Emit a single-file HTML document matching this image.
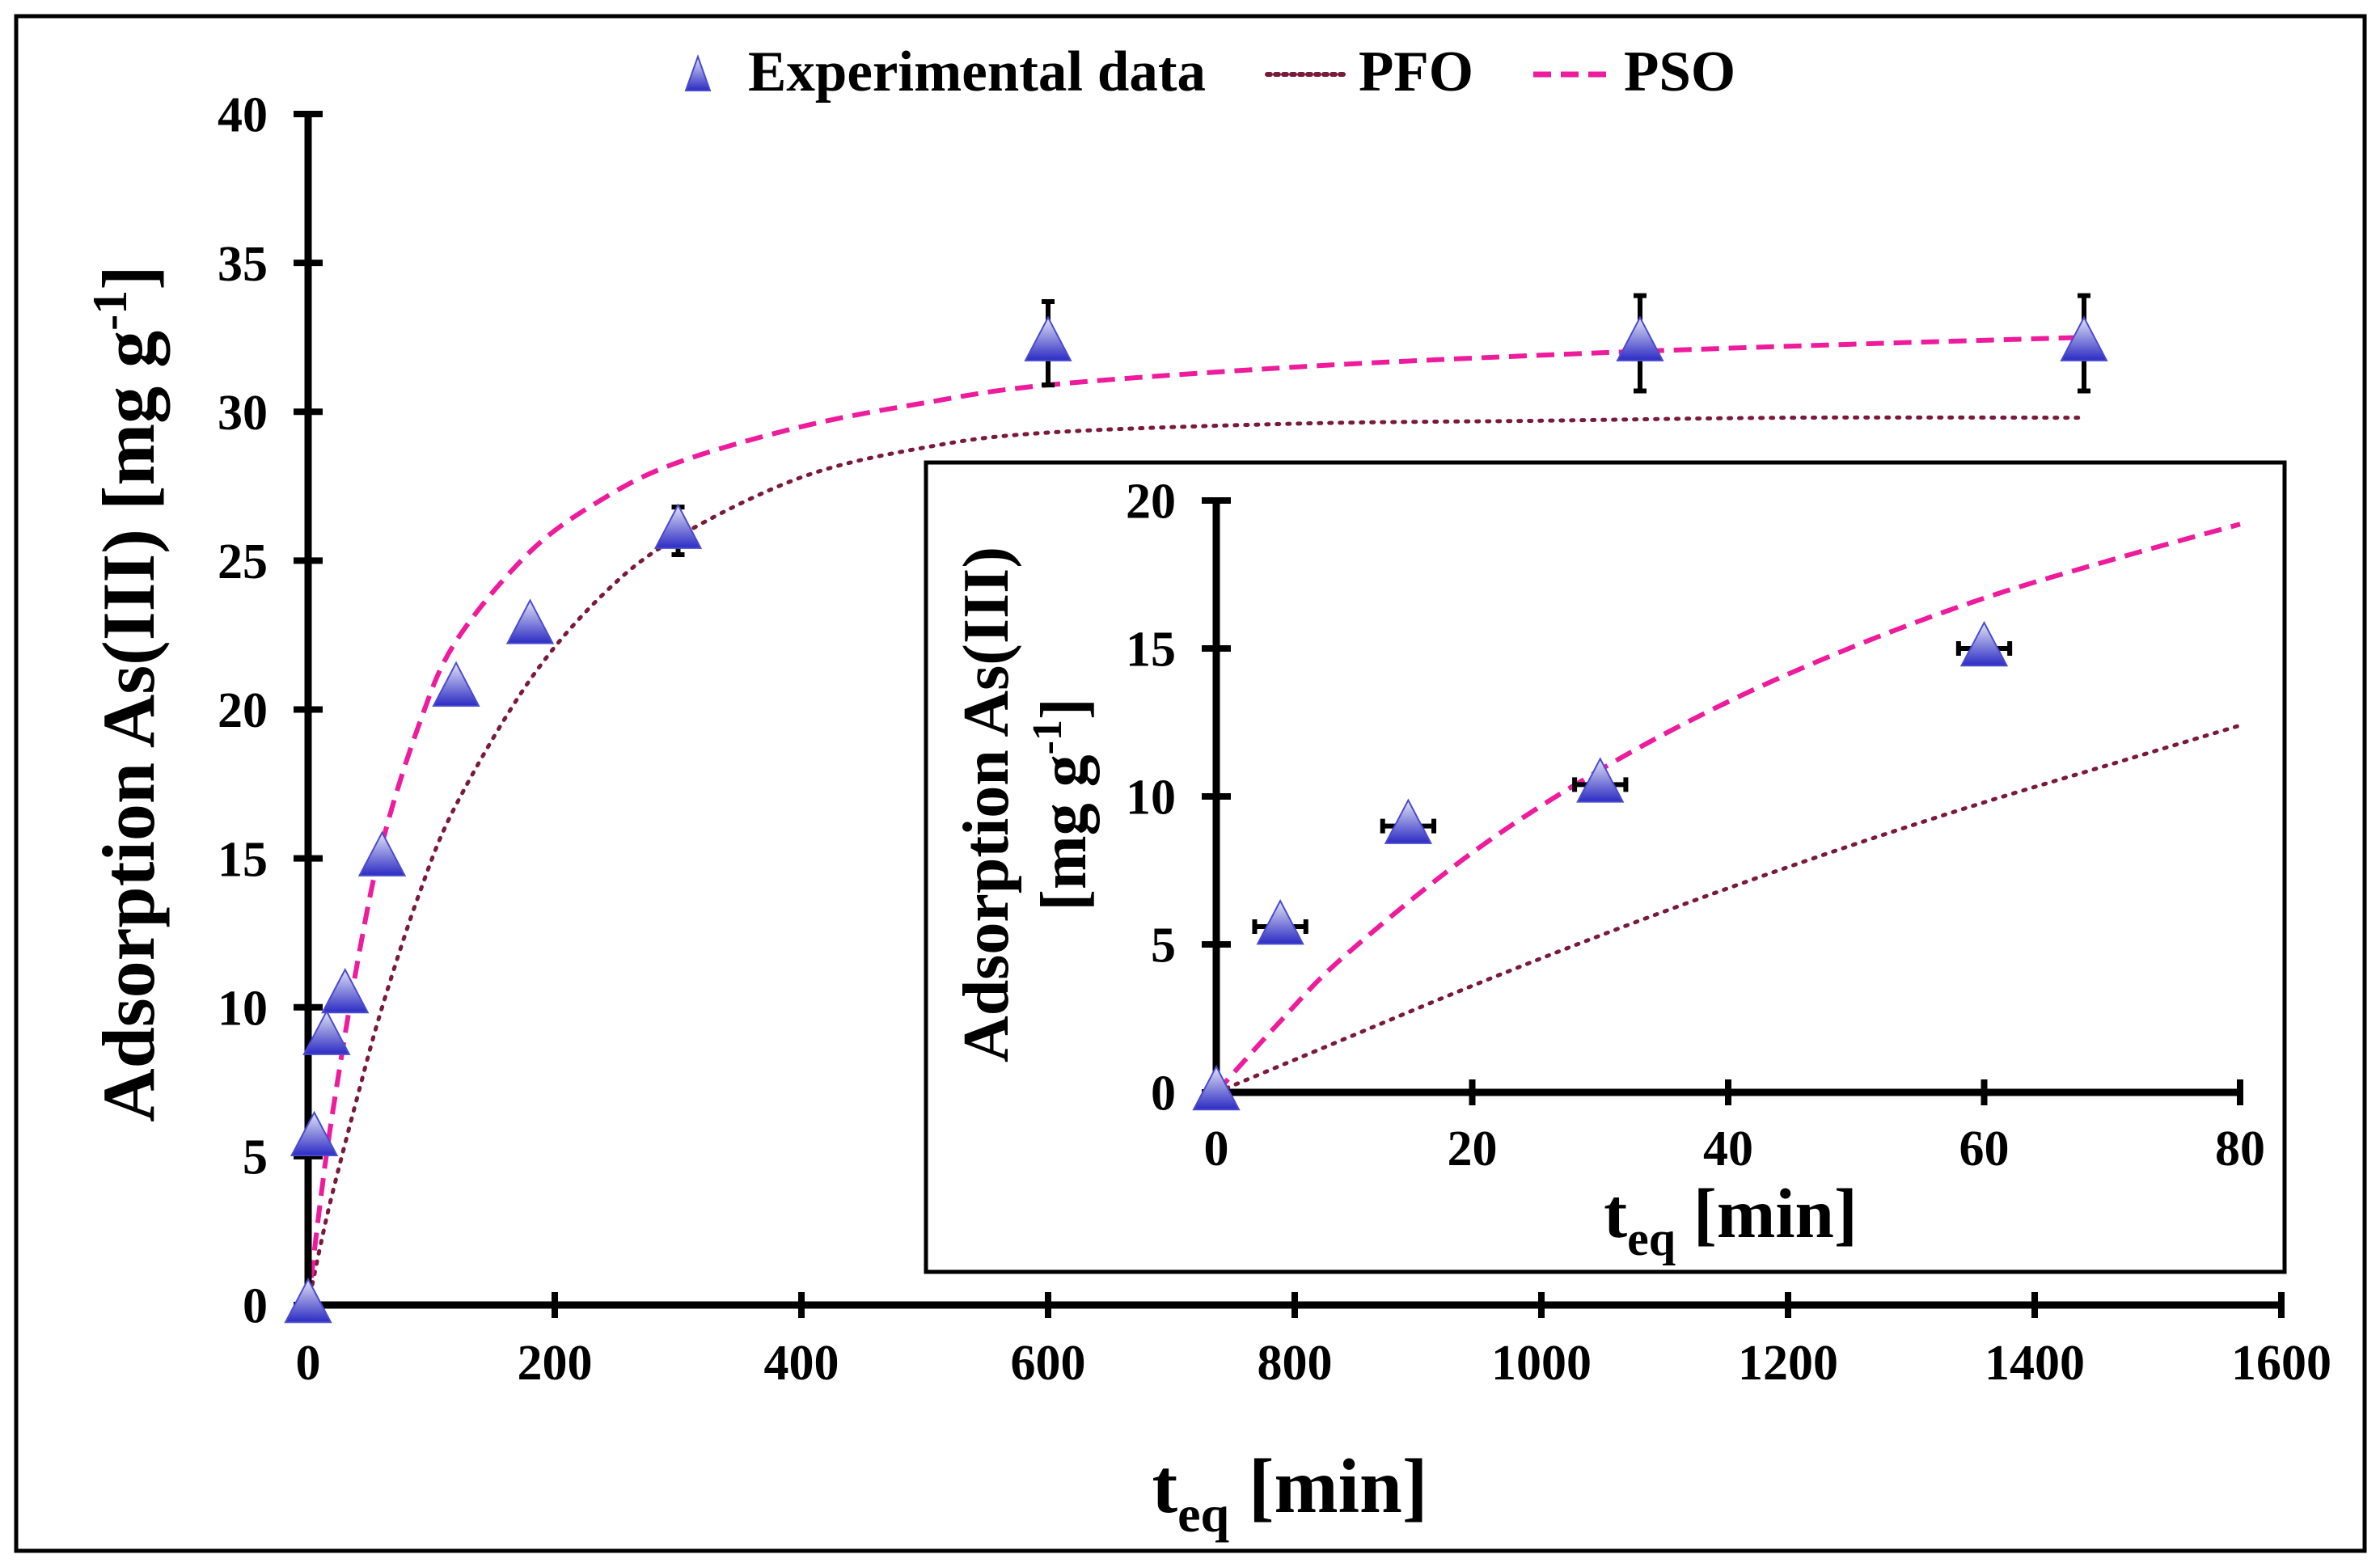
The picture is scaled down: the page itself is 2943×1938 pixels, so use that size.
<!DOCTYPE html>
<html><head><meta charset="utf-8"><style>
html,body{margin:0;padding:0;background:#fff}
svg{display:block}
text{font-family:"Liberation Serif",serif;font-weight:bold;fill:#000}
</style></head><body>
<svg id="chart" width="2943" height="1938" viewBox="0 0 2943 1938" xmlns="http://www.w3.org/2000/svg">
<defs>
<linearGradient id="tg" x1="0" y1="0" x2="0" y2="1">
<stop offset="0" stop-color="#e4e4f6"/><stop offset="1" stop-color="#2b2bc4"/>
</linearGradient>
</defs>
<rect x="20" y="20" width="2904" height="1898" fill="#fff" stroke="#000" stroke-width="5"/>
<g id="legend">
<polygon points="863,70 848,112 878,112" fill="url(#tg)" stroke="#4b4bd0" stroke-width="2"/>
<text x="925" y="112" font-size="71">Experimental data</text>
<line x1="1567" y1="92" x2="1667" y2="92" stroke="#7a1a3a" stroke-width="6" stroke-dasharray="4 6" stroke-linecap="round"/>
<text x="1680" y="112" font-size="71">PFO</text>
<line x1="1896" y1="92" x2="1993" y2="92" stroke="#ee1c9c" stroke-width="7" stroke-dasharray="22 12"/>
<text x="2008" y="112" font-size="71">PSO</text>
</g>
<g id="main"></g>
<rect x="1145" y="572" width="1680" height="1001" fill="#fff" stroke="#000" stroke-width="5"/>
<g id="inset"></g>
<text x="1595" y="1870" font-size="95" text-anchor="middle">t<tspan font-size="64" dy="24">eq</tspan><tspan dy="-24"> [min]</tspan></text>
<text transform="translate(190,858) rotate(-90)" font-size="92" text-anchor="middle">Adsorption As(III)  [mg g<tspan font-size="60" dy="-34">-1</tspan><tspan dy="34">]</tspan></text>
<text x="2140" y="1530" font-size="87" text-anchor="middle">t<tspan font-size="60" dy="22">eq</tspan><tspan dy="-22"> [min]</tspan></text>
<text transform="translate(1246,995) rotate(-90)" font-size="80" text-anchor="middle">Adsorption As(III)</text>
<text transform="translate(1342,995) rotate(-90)" font-size="80" text-anchor="middle">[mg g<tspan font-size="52" dy="-30">-1</tspan><tspan dy="30">]</tspan></text>
</svg>
<script>
const NS='http://www.w3.org/2000/svg';
// main data
const expTimes=[0,5,15,30,60,120,180,300,600,1080,1440];
const expValues=[0,5.6,9,10.4,15,20.7,22.8,26,32.3,32.3,32.3];
const expErrors=[0,0,0,0,0,0,0,0.8,1.4,1.6,1.6];
const fitTimes=[0,10,20,40,60,90,120,180,240,300,400,500,600,800,1000,1200,1440];
const psoValues=[0,3.5,6.5,11.5,15.5,19.5,22.3,25.3,27.1,28.3,29.5,30.3,30.9,31.5,31.9,32.2,32.5];
const pfoValues=[0,2,3.8,7,10,13.8,16.8,21,23.9,25.8,27.8,28.8,29.3,29.6,29.7,29.8,29.8];
const xTicks=[0,200,400,600,800,1000,1200,1400,1600];
const yTicks=[0,5,10,15,20,25,30,35,40];
// inset data
const insetExpTimes=[0,5,15,30,60];
const insetExpValues=[0,5.6,9,10.4,15];
const insetXErrors=[0,2,2,2,2];
const insetFitTimes=[0,5,10,20,30,40,50,60,70,80];
const insetPso=[0,2.4,4.6,8.1,10.9,13.2,15.1,16.7,18,19.2];
const insetPfo=[0,0.9,1.8,3.6,5.3,6.9,8.4,9.8,11.1,12.4];
const insetXTicks=[0,20,40,60,80];
const insetYTicks=[0,5,10,15,20];

function mk(tag,attrs,parent){const e=document.createElementNS(NS,tag);for(const k in attrs)e.setAttribute(k,attrs[k]);parent.appendChild(e);return e;}
function smooth(pts){let d='M'+pts[0][0]+','+pts[0][1];for(let i=0;i<pts.length-1;i++){const p0=pts[Math.max(0,i-1)],p1=pts[i],p2=pts[i+1],p3=pts[Math.min(pts.length-1,i+2)];const c1=[p1[0]+(p2[0]-p0[0])/6,p1[1]+(p2[1]-p0[1])/6],c2=[p2[0]-(p3[0]-p1[0])/6,p2[1]-(p3[1]-p1[1])/6];d+=' C'+c1+' '+c2+' '+p2;}return d;}

function drawPlot(g,o){
 const sx=v=>o.x0+(v-o.xmin)/(o.xmax-o.xmin)*(o.x1-o.x0);
 const sy=v=>o.y0-(v-o.ymin)/(o.ymax-o.ymin)*(o.y0-o.y1);
 let e=mk('path',{d:smooth(o.ft.map((t,i)=>[sx(t),sy(o.pfo[i])])),fill:'none',stroke:'#7a1a3a','stroke-width':o.lw,'stroke-dasharray':'3 '+(o.lw+5),'stroke-linecap':'round'},g);
 
 
 e=mk('path',{d:smooth(o.ft.map((t,i)=>[sx(t),sy(o.pso[i])])),fill:'none',stroke:'#ee1c9c','stroke-width':o.lw+1,'stroke-dasharray':'22 12'},g);
 
 
 e=mk('line',{x1:o.x0,y1:o.y0,x2:o.x1+4,y2:o.y0,stroke:'#000','stroke-width':9},g);
 
 
 e=mk('line',{x1:o.x0,y1:o.y0+4,x2:o.x0,y2:o.y1-4,stroke:'#000','stroke-width':9},g);
 
 
 o.xt.forEach(v=>{
  const l=mk('line',{x1:sx(v),y1:o.y0-16,x2:sx(v),y2:o.y0+16,stroke:'#000','stroke-width':8},g);
  
  
  const t=mk('text',{x:sx(v),y:o.y0+o.xlo,'font-size':o.fs,'text-anchor':'middle'},g);t.textContent=v;
  
  
 });
 o.yt.forEach(v=>{
  const l=mk('line',{x1:o.x0-18,y1:sy(v),x2:o.x0+18,y2:sy(v),stroke:'#000','stroke-width':8},g);
  
  
  const t=mk('text',{x:o.x0-o.ylo,y:sy(v)+o.fs*0.35,'font-size':o.fs,'text-anchor':'end'},g);t.textContent=v;
  
  
 });
 o.et.forEach((t,i)=>{
  const cx=sx(t),cy=sy(o.ev[i]);
  if(o.ey&&o.ey[i]>0){
   const a=sy(o.ev[i]+o.ey[i]),b=sy(o.ev[i]-o.ey[i]);
   const p=mk('path',{d:`M${cx},${a}V${b}M${cx-8},${a}H${cx+8}M${cx-8},${b}H${cx+8}`,stroke:'#000','stroke-width':6,fill:'none'},g);
   
   
  }
  if(o.ex&&o.ex[i]>0){
   const a=sx(t-o.ex[i]),b=sx(t+o.ex[i]);
   const p=mk('path',{d:`M${a},${cy}H${b}M${a},${cy-9}V${cy+9}M${b},${cy-9}V${cy+9}`,stroke:'#000','stroke-width':6,fill:'none'},g);
   
   
  }
  const w=o.ms,h=o.ms*0.95;
  const tr=mk('polygon',{points:`${cx},${cy-h*0.6} ${cx-w/2},${cy+h*0.4} ${cx+w/2},${cy+h*0.4}`,fill:'url(#tg)',stroke:'#4b4bd0','stroke-width':2},g);
  
  
 });
}
drawPlot(document.getElementById('main'),{pre:'',x0:381,x1:2821,y0:1614,y1:141,xmin:0,xmax:1600,ymin:0,ymax:40,
 ft:fitTimes,pso:psoValues,pfo:pfoValues,et:expTimes,ev:expValues,ey:expErrors,ex:null,xt:xTicks,yt:yTicks,fs:62,xlo:92,ylo:50,lw:5,ms:56});
drawPlot(document.getElementById('inset'),{pre:'inset-',x0:1504,x1:2770,y0:1351,y1:619,xmin:0,xmax:80,ymin:0,ymax:20,
 ft:insetFitTimes,pso:insetPso,pfo:insetPfo,et:insetExpTimes,ev:insetExpValues,ey:null,ex:insetXErrors,xt:insetXTicks,yt:insetYTicks,fs:62,xlo:90,ylo:50,lw:5,ms:56});
</script>
</body></html>
